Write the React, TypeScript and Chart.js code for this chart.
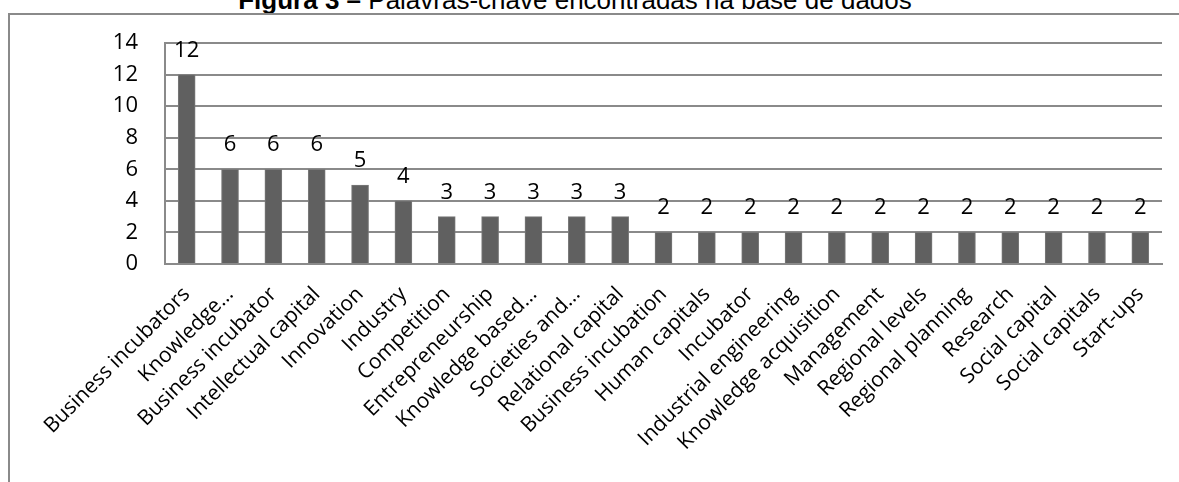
import React, { useEffect, useRef } from "react";
import { Chart, registerables } from "chart.js";

Chart.register(...registerables);

const categories: string[] = [
  "Business incubators",
  "Knowledge…",
  "Business incubator",
  "Intellectual capital",
  "Innovation",
  "Industry",
  "Competition",
  "Entrepreneurship",
  "Knowledge based…",
  "Societies and…",
  "Relational capital",
  "Business incubation",
  "Human capitals",
  "Incubator",
  "Industrial engineering",
  "Knowledge acquisition",
  "Management",
  "Regional levels",
  "Regional planning",
  "Research",
  "Social capital",
  "Social capitals",
  "Start-ups",
];

const counts: number[] = [12, 6, 6, 6, 5, 4, 3, 3, 3, 3, 3, 2, 2, 2, 2, 2, 2, 2, 2, 2, 2, 2, 2];

const yMin = 0;
const yMax = 14;
const yStep = 2;

const titleBold = "Figura 3 –";
const titleRest = " Palavras-chave encontradas na base de dados";

const CANVAS_W = 1169;
const CANVAS_H = 466;

export default function App() {
  const ref = useRef<HTMLCanvasElement>(null);

  useEffect(() => {
    if (!ref.current) return;
    const valueLabels = {
      id: "valueLabels",
      afterDatasetsDraw(chart: any) {
        const ctx = chart.ctx;
        const meta = chart.getDatasetMeta(0);
        ctx.save();
        ctx.font = '22px "Open Sans"';
        ctx.fillStyle = "#000";
        ctx.textAlign = "center";
        ctx.textBaseline = "alphabetic";
        meta.data.forEach((el: any, i: number) => {
          ctx.fillText(String(counts[i]), el.x, el.y - 18);
        });
        ctx.restore();
      },
    };

    const chart = new Chart(ref.current, {
      type: "bar",
      data: {
        labels: categories,
        datasets: [
          {
            data: counts,
            backgroundColor: "#606060",
            borderColor: "#7a7a7a",
            borderWidth: 1,
            barThickness: 17,
          },
        ],
      },
      options: {
        responsive: false,
        animation: false,
        devicePixelRatio: 1,
        layout: { padding: { top: 27, right: 17, left: 0, bottom: 0 } },
        plugins: {
          legend: { display: false },
          tooltip: { enabled: false },
          title: { display: false },
        },
        scales: {
          x: {
            grid: { display: false, drawTicks: false },
            border: { display: true, color: "#8a8a8a", width: 2 },
            ticks: {
              autoSkip: false,
              maxRotation: 45,
              minRotation: 45,
              padding: 18,
              color: "#000",
              font: { family: "Open Sans", size: 21 },
            },
            afterFit: (s: any) => {
              s.height = 218;
              s.paddingLeft = 0;
              s.paddingRight = 0;
              s.paddingTop = 0;
              s.paddingBottom = 0;
            },
          },
          y: {
            min: yMin,
            max: yMax,
            ticks: {
              stepSize: yStep,
              padding: 27,
              color: "#000",
              font: { family: "Open Sans", size: 22 },
            },
            grid: { color: "#8a8a8a", lineWidth: 2, drawTicks: false },
            border: { display: true, color: "#8a8a8a", width: 2 },
            afterFit: (s: any) => {
              s.width = 155;
              s.paddingTop = 0;
              s.paddingBottom = 0;
              s.paddingLeft = 0;
              s.paddingRight = 0;
            },
          },
        },
      },
      plugins: [valueLabels],
    });
    return () => chart.destroy();
  }, []);

  return (
    <div
      style={{
        position: "fixed",
        left: 0,
        top: 0,
        width: 1179,
        height: 482,
        overflow: "hidden",
        background: "#fff",
      }}
    >
      <div
        style={{
          position: "absolute",
          left: 0,
          width: 1150,
          top: -13.5,
          lineHeight: "26px",
          fontSize: 26,
          fontFamily: '"Liberation Sans", Arial, sans-serif',
          textAlign: "center",
          color: "#000",
          whiteSpace: "nowrap",
        }}
      >
        <b>{titleBold}</b>
        {titleRest}
      </div>
      <div
        style={{
          position: "absolute",
          left: 8,
          top: 13,
          width: 1400,
          height: 700,
          border: "2px solid #8a8a8a",
          boxSizing: "border-box",
        }}
      />
      <canvas
        ref={ref}
        width={CANVAS_W}
        height={CANVAS_H}
        style={{ position: "absolute", left: 10, top: 16, width: CANVAS_W, height: CANVAS_H, display: "block" }}
      />
    </div>
  );
}
